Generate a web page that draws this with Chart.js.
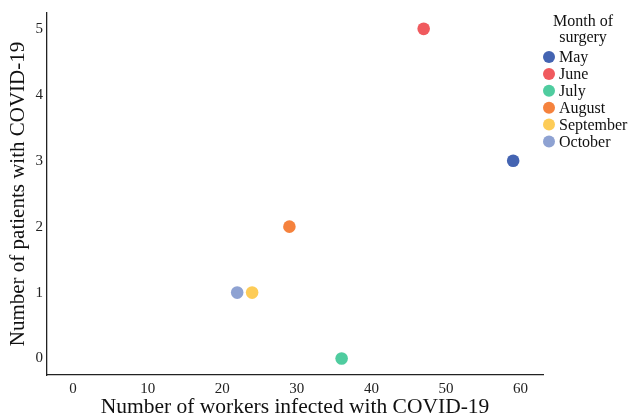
<!DOCTYPE html>
<html>
<head>
<meta charset="utf-8">
<script src="https://cdn.jsdelivr.net/npm/chart.js@4/dist/chart.umd.min.js"></script>
<style>
	html, body {margin: 0; padding: 0; background: #fff;}
	#wrap {width: 630px; height: 420px;}
</style>
</head>
<body>
<div id="wrap"><canvas id="chart"></canvas></div>
<script>
'use strict';

const months = ['May', 'June', 'July', 'August', 'September', 'October'];
const workersInfected = [59, 47, 36, 29, 24, 22];
const patientsInfected = [3, 5, 0, 2, 1, 1];
const xTicks = [0, 10, 20, 30, 40, 50, 60];
const yTicks = [0, 1, 2, 3, 4, 5];

const palette = ['#4464b2', '#f05a5e', '#4fcc9f', '#f5823d', '#fdcc57', '#8ea2d2'];
const FONT = "'Liberation Serif', 'Times New Roman', serif";

//legend drawn by hand so the two-line title sits like the reference
const legendPlugin = {
	id: 'monthLegend',
	afterDraw: (chart) => {
		const {ctx} = chart;
		ctx.save();
		ctx.fillStyle = '#111';
		ctx.font = `16px ${FONT}`;
		ctx.textAlign = 'center';
		ctx.textBaseline = 'middle';
		ctx.fillText('Month of', 583, 22);
		ctx.fillText('surgery', 583, 38);
		
		ctx.textAlign = 'left';
		chart.data.datasets.forEach((ds, idx) => {
			const y = 57 + idx * 16.9;
			ctx.beginPath();
			ctx.arc(549, y, 6, 0, Math.PI * 2);
			ctx.fillStyle = ds.backgroundColor;
			ctx.fill();
			ctx.fillStyle = '#111';
			ctx.fillText(ds.label, 559, y + 1);
		});
		ctx.restore();
	}
};

const datasets = months.map((month, idx) => ({
	label: month,
	data: [{x: workersInfected[idx], y: patientsInfected[idx]}],
	backgroundColor: palette[idx],
	borderColor: palette[idx],
	pointRadius: 6.3,
	pointHoverRadius: 6.3,
	borderWidth: 0
}));

new Chart(document.getElementById('chart'), {
	type: 'scatter',
	data: {datasets: datasets},
	options: {
		animation: false,
		responsive: true,
		maintainAspectRatio: false,
		layout: {
			padding: {top: 8, right: 87, bottom: 0, left: 0}
		},
		plugins: {
			legend: {display: false},
			tooltip: {enabled: false}
		},
		scales: {
			x: {
				type: 'linear',
				min: -3.5,
				max: 63,
				afterBuildTicks: scale => {
					scale.ticks = xTicks.map(v => ({value: v}));
				},
				afterFit: scale => {
					scale.height = 45;
				},
				grid: {display: false, drawTicks: false},
				border: {display: true, color: '#222', width: 1.3},
				ticks: {
					color: '#222',
					padding: 5,
					font: {family: FONT, size: 15}
				},
				title: {
					display: true,
					text: 'Number of workers infected with COVID-19',
					color: '#111',
					padding: {top: 0, bottom: 0},
					font: {family: FONT, size: 21.5}
				}
			},
			y: {
				type: 'linear',
				min: -0.25,
				max: 5.24,
				afterBuildTicks: scale => {
					scale.ticks = yTicks.map(v => ({value: v}));
				},
				afterFit: scale => {
					scale.width = 47;
				},
				grid: {display: false, drawTicks: false},
				border: {display: true, color: '#222', width: 1.3},
				ticks: {
					color: '#222',
					padding: 4,
					font: {family: FONT, size: 15}
				},
				title: {
					display: true,
					text: 'Number of patients with COVID-19',
					color: '#111',
					padding: {top: 6, bottom: 0},
					font: {family: FONT, size: 21}
				}
			}
		}
	},
	plugins: [legendPlugin]
});
</script>
</body>
</html>
